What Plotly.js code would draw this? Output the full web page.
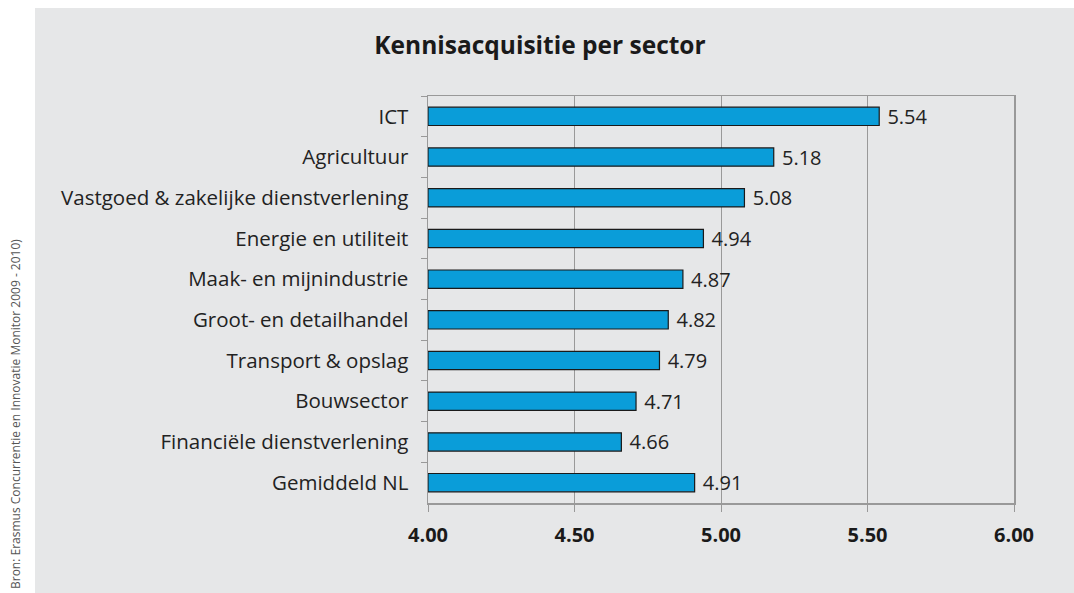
<!DOCTYPE html>
<html>
<head>
<meta charset="utf-8">
<script src="https://cdn.plot.ly/plotly-3.0.1.min.js"></script>
<style>
html,body{margin:0;padding:0;background:#fff;}
#chart{width:1074px;height:593px;}
</style>
</head>
<body>
<div id="chart"></div>
<script>
const sectors = [
  "ICT",
  "Agricultuur",
  "Vastgoed & zakelijke dienstverlening",
  "Energie en utiliteit",
  "Maak- en mijnindustrie",
  "Groot- en detailhandel",
  "Transport & opslag",
  "Bouwsector",
  "Financiële dienstverlening",
  "Gemiddeld NL"
];
const scores = [5.54, 5.18, 5.08, 4.94, 4.87, 4.82, 4.79, 4.71, 4.66, 4.91];
const axisMin = 4.0;
const xTicks = [4.0, 4.5, 5.0, 5.5, 6.0];
const xTickLabels = ["4.00", "4.50", "5.00", "5.50", "6.00"];
const chartTitle = "Kennisacquisitie per sector";
const sourceNote = "Bron: Erasmus Concurrentie en Innovatie Monitor 2009 - 2010)";

const FONT = "Open Sans, Noto Sans, sans-serif";
const W = 1074, H = 593;
const L = 428, R = 1014, T = 96, B = 503;
const pw = R - L, ph = B - T;
const px2x = p => (p - L) / pw;
const py2y = p => (B - p) / ph;

const trace = {
  type: "bar",
  orientation: "h",
  y: sectors,
  x: scores.map(v => v - axisMin),
  base: axisMin,
  width: 0.45,
  marker: {color: "#0a9dd9", line: {color: "#1a1a1a", width: 1.2}},
  text: scores.map(v => "\u00a0" + v.toFixed(2)),
  textposition: "outside",
  constraintext: "none",
  cliponaxis: false,
  textfont: {family: FONT, size: 20, color: "#222"},
  hoverinfo: "skip"
};

const layout = {
  width: W, height: H,
  margin: {l: L, r: W - R, t: T, b: H - B, pad: 0},
  paper_bgcolor: "#ffffff",
  plot_bgcolor: "#e6e7e8",
  showlegend: false,
  font: {family: FONT, color: "#222"},
  title: {
    text: chartTitle,
    font: {family: FONT, size: 24.5, color: "#1a1a1a", weight: "bold"},
    x: 540 / W, xref: "container", xanchor: "center",
    y: 1 - 45 / H, yref: "container", yanchor: "middle"
  },
  xaxis: {
    range: [4, 6],
    tickvals: xTicks,
    ticktext: xTickLabels,
    ticks: "outside", ticklen: 7, tickcolor: "#999", tickwidth: 1,
    showgrid: true, gridcolor: "#999", gridwidth: 1,
    showline: true, linecolor: "#999", linewidth: 1.5, mirror: true,
    zeroline: false,
    tickfont: {family: FONT, size: 20, color: "#1a1a1a", weight: "bold"},
    ticklabelstandoff: 6,
    fixedrange: true
  },
  yaxis: {
    type: "category",
    autorange: "reversed",
    tickson: "boundaries",
    ticks: "outside", ticklen: 6, tickcolor: "#999", tickwidth: 1,
    showgrid: false,
    showline: true, linecolor: "#999", linewidth: 1.5, mirror: true,
    tickfont: {family: FONT, size: 20.5, color: "#222"},
    ticklabelstandoff: 14,
    fixedrange: true
  },
  shapes: [{
    type: "rect", xref: "paper", yref: "paper", layer: "below",
    x0: px2x(35), x1: px2x(W + 5), y0: py2y(H + 5), y1: py2y(8),
    fillcolor: "#e6e7e8", line: {width: 0}
  }],
  annotations: [{
    text: sourceNote, xref: "paper", yref: "paper",
    x: px2x(15), y: py2y(414), xanchor: "center", yanchor: "middle",
    textangle: -90, showarrow: false,
    font: {family: FONT, size: 12, color: "#555"}
  }]
};

Plotly.newPlot("chart", [trace], layout, {staticPlot: true, displayModeBar: false});
</script>
</body>
</html>
